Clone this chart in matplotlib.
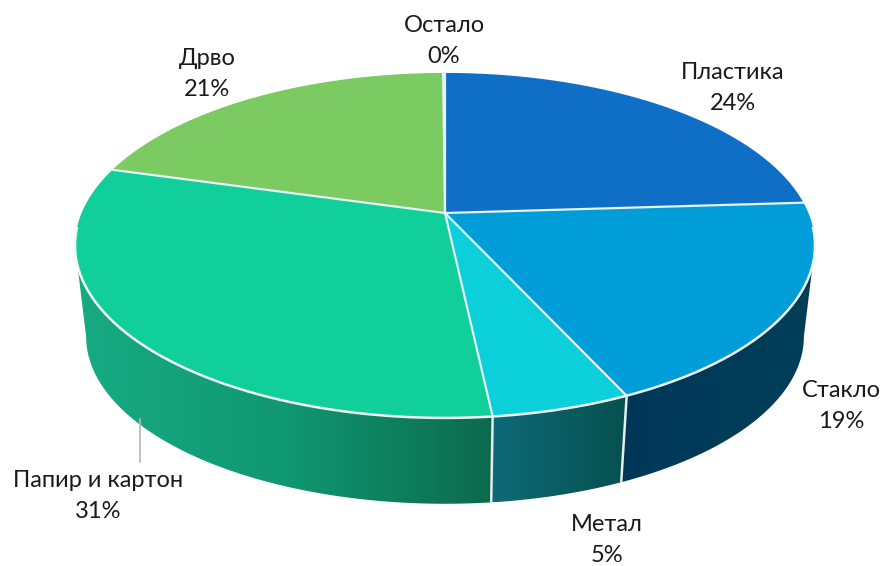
import numpy as np
from matplotlib import pyplot as plt
from matplotlib.colors import LinearSegmentedColormap
from matplotlib.patches import Polygon

plt.rcParams['font.family'] = ['Lato', 'Open Sans', 'DejaVu Sans']

# data
categories = ['Пластика', 'Стакло', 'Метал', 'Папир и картон', 'Дрво', 'Остало']
shares = [24.0, 19.2, 5.1, 31.1, 20.5, 0.1]
share_labels = ['24%', '19%', '5%', '31%', '21%', '0%']
top_colors = ['#0F6FC6', '#009DD9', '#0BD0D9', '#10CF9B', '#7CCA62', '#A5C249']
wall_colors = [None,
               ['#00375A', '#003F58'],
               ['#0E6A78', '#07504F'],
               ['#17AB82', '#109871', '#0C6A4C'],
               None, None]
label_pos = [(733, 88), (841, 406), (607, 540), (98, 496), (207, 74), (444, 41)]

# perspective of the disc, in pixels
cx, cy = 445, 213
a, b, k = 363.4, 166.4, 0.188
shrink, depth = 0.97, 92


def top_xy(theta):
    u, v = np.sin(theta), np.cos(theta)
    w = 1 + k * v
    return cx + a * u / w, cy - b * v / w


def bottom_xy(theta):
    u, v = np.sin(theta), np.cos(theta)
    w = 1 + k * v
    return cx + shrink * a * u / w, cy - shrink * b * v / w + depth


fig = plt.figure(figsize=(8.8, 5.66), dpi=100)
ax = fig.add_axes([0, 0, 1, 1])
ax.set_xlim(0, 880)
ax.set_ylim(566, 0)
ax.axis('off')

edges = np.radians(np.cumsum([0] + shares) * 3.6)
vis_a = np.pi / 2 + np.arcsin(k)
vis_b = 2 * np.pi - vis_a

# side walls
for i in range(len(shares)):
    if wall_colors[i] is None:
        continue
    t0, t1 = max(edges[i], vis_a), min(edges[i + 1], vis_b)
    t = np.linspace(t0, t1, 120)
    xt, yt = top_xy(t)
    xb, yb = bottom_xy(t)
    pts = np.column_stack([np.r_[xt, xb[::-1]], np.r_[yt, yb[::-1]]])
    poly = Polygon(pts, closed=True, fc='none', ec='none')
    ax.add_patch(poly)
    cmap = LinearSegmentedColormap.from_list('w%d' % i, wall_colors[i])
    grad = np.linspace(0, 1, 256).reshape(1, -1)
    im = ax.imshow(grad, cmap=cmap, aspect='auto',
                   extent=(pts[:, 0].min(), pts[:, 0].max(), pts[:, 1].max(), pts[:, 1].min()))
    im.set_clip_path(poly)

ax.set_xlim(0, 880)
ax.set_ylim(566, 0)

# white joints on the wall
for e in edges:
    if vis_a < e < vis_b:
        xt, yt = top_xy(e)
        xb, yb = bottom_xy(e)
        ax.plot([xt, xb], [yt, yb], color='#E4EEEE', lw=1.8, solid_capstyle='butt')

# top face
for i in range(len(shares)):
    t = np.linspace(edges[i], edges[i + 1], 200)
    x, y = top_xy(t)
    ax.fill(np.r_[cx, x], np.r_[cy, y], fc=top_colors[i], ec='none', zorder=3)

t = np.linspace(vis_a - 0.1, vis_b + 0.1, 300)
x, y = top_xy(t)
ax.plot(x, y, color='#F2F8F6', lw=1.8, zorder=4)
for e in edges[:-1]:
    x, y = top_xy(e)
    ax.plot([cx, x], [cy, y], color='#E6F2F4', lw=1.6, zorder=4)

# leader line for the paper label
ax.plot([140, 140], [419, 462], color='#B5B5B5', lw=1.2, zorder=2)

for name, pct, pos in zip(categories, share_labels, label_pos):
    ax.text(pos[0], pos[1], name + '\n' + pct, ha='center', va='center',
            fontsize=17, color='#1A1A1A', linespacing=1.62, zorder=5)

fig.savefig('out.png', dpi=100)
